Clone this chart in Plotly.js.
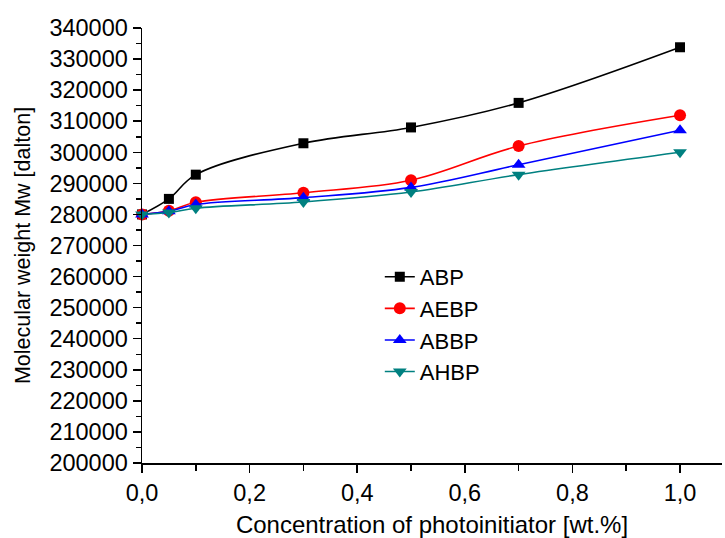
<!DOCTYPE html>
<html>
<head>
<meta charset="utf-8">
<script src="https://cdn.plot.ly/plotly-3.0.1.min.js"></script>
<style>html,body{margin:0;padding:0;background:#fff;}#chart{width:725px;height:538px;}</style>
</head>
<body>
<div id="chart"></div>
<script>
var concentration = [0, 0.05, 0.1, 0.3, 0.5, 0.7, 1.0];
var seriesNames = ["ABP", "AEBP", "ABBP", "AHBP"];
var abp  = [280000, 285000, 292800, 302900, 308000, 315900, 333800];
var aebp = [280000, 281200, 283900, 287000, 291000, 302000, 311900];
var abbp = [280000, 281000, 283200, 285400, 288700, 296000, 307100];
var ahbp = [280000, 280600, 282000, 284000, 287200, 292800, 300000];
var yTicks = [200000,210000,220000,230000,240000,250000,260000,270000,280000,290000,300000,310000,320000,330000,340000];
var xTicks = [0, 0.2, 0.4, 0.6, 0.8, 1.0];

var FONT = "Liberation Sans, Arial, sans-serif";
var colors = ["#000000", "#ff0000", "#0000ff", "#008080"];
var symbols = ["square", "circle", "triangle-up", "triangle-down"];
var sizes = [10, 12, 12, 12];
var values = [abp, aebp, abbp, ahbp];

var traces = values.map(function(v, i) {
  return {
    x: concentration, y: v, name: seriesNames[i],
    type: "scatter", mode: "lines+markers",
    line: {color: colors[i], width: 1.6, shape: "spline", smoothing: 1},
    marker: {symbol: symbols[i], size: sizes[i], color: colors[i]},
    cliponaxis: false
  };
});

var layout = {
  width: 725, height: 538,
  margin: {l: 142, r: 3, t: 28, b: 75},
  paper_bgcolor: "#ffffff", plot_bgcolor: "#ffffff",
  separators: ", ",
  font: {family: FONT, size: 22, color: "#000"},
  showlegend: true,
  legend: {
    x: 0.41, y: 0.476, xanchor: "left", yanchor: "top",
    font: {family: FONT, size: 22, color: "#000"},
    bgcolor: "rgba(0,0,0,0)", borderwidth: 0,
    tracegroupgap: 0
  },
  xaxis: {
    range: [0, 1.078],
    tickvals: xTicks, tickformat: ".1f",
    showgrid: false, zeroline: false,
    showline: true, linecolor: "#000", linewidth: 1.5,
    ticks: "outside", ticklen: 8, tickwidth: 1.5, tickcolor: "#000",
    minor: {tickvals: [0.1, 0.3, 0.5, 0.7, 0.9], ticks: "outside", ticklen: 6, tickwidth: 1.5, tickcolor: "#000", showgrid: false},
    tickfont: {family: FONT, size: 23.5, color: "#000"},
    title: {text: "Concentration of photoinitiator [wt.%]", font: {family: FONT, size: 24, color: "#000"}, standoff: 14}
  },
  yaxis: {
    range: [200000, 340000],
    tickvals: yTicks, tickformat: "d",
    showgrid: false, zeroline: false,
    showline: true, linecolor: "#000", linewidth: 1.5,
    ticks: "outside", ticklen: 8, tickwidth: 1.5, tickcolor: "#000",
    minor: {dtick: 5000, ticks: "outside", ticklen: 5, tickwidth: 1.5, tickcolor: "#000", showgrid: false},
    tickfont: {family: FONT, size: 23.5, color: "#000"},
    title: {text: "Molecular weight Mw [dalton]", font: {family: FONT, size: 21.5, color: "#000"}, standoff: 13}
  }
};

Plotly.newPlot("chart", traces, layout, {displayModeBar: false, staticPlot: true});
</script>
</body>
</html>
